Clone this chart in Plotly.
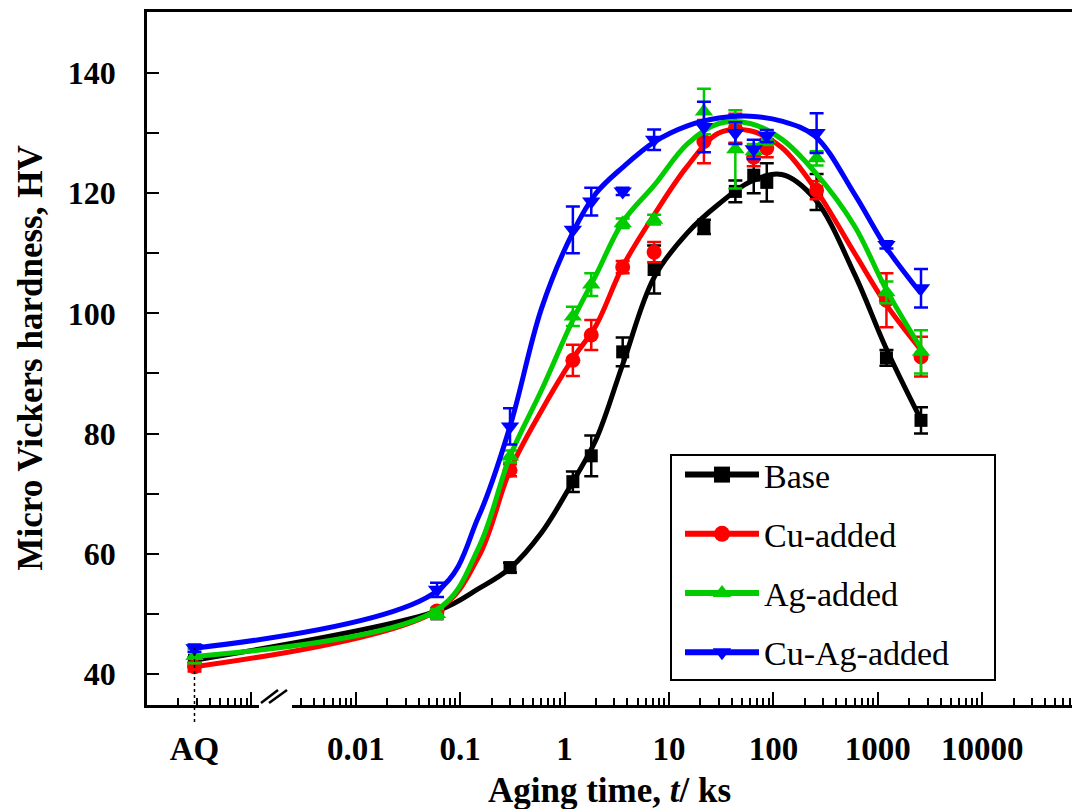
import math
import plotly.graph_objects as go

FONT = "Liberation Serif, Times New Roman, serif"

# ---------------- data ----------------
AQ = 2.85e-4  # position used for the as-quenched state on the log axis
t_pts = [AQ, 0.06, 0.3, 1.2, 1.8, 3.6, 7.2, 21.6, 43.2, 64.8, 86.4, 259.2, 1209.6, 2592]

base_hv = [42.3, 50.0, 57.7, 72.0, 76.3, 93.6, 107.3, 114.4, 120.3, 123.0, 121.8, 120.2, 92.6, 82.2]
base_err = [0.5, 0.6, 0.8, 1.7, 3.4, 2.4, 4.0, 1.2, 1.8, 3.0, 3.2, 3.0, 1.3, 2.2]

cu_hv = [41.2, 50.5, 73.9, 92.2, 96.4, 107.7, 110.2, 128.6, 130.8, 126.0, 127.5, 120.5, 102.2, 92.8]
cu_err = [0.8, 0.5, 1.0, 2.6, 2.5, 1.0, 1.7, 3.6, 2.4, 1.5, 1.5, 1.5, 4.5, 3.3]

ag_hv = [43.0, 50.0, 76.2, 99.5, 104.8, 115.0, 115.6, 133.6, 127.3, 127.0, 129.0, 125.8, 103.5, 93.6]
ag_err = [1.2, 0.8, 1.0, 1.6, 1.9, 0.8, 0.8, 3.8, 6.5, 1.2, 1.0, 1.2, 1.8, 3.6]

cuag_hv = [44.3, 54.0, 81.2, 113.9, 118.6, 120.3, 128.9, 131.0, 130.0, 127.3, 129.5, 130.0, 111.4, 104.2]
cuag_err = [0.6, 1.2, 3.0, 3.9, 2.3, 0.6, 1.7, 4.2, 1.8, 1.6, 1.0, 3.3, 0.6, 3.2]

# fitted (smoothed) curves
fit_t = [AQ, 0.06, 0.15, 0.3, 0.6, 1.2, 2, 3.6, 7.2, 15, 30, 60, 120, 250, 600, 1200, 2592]
base_fit = [42.3, 50.5, 54.2, 57.6, 63.5, 72.0, 79.0, 91.5, 106.0, 113.4, 118.2, 121.9, 123.1, 119.0, 106.5, 94.2, 82.3]
cu_fit = [41.2, 50.6, 59.5, 73.9, 83.8, 92.5, 98.0, 107.8, 116.4, 124.5, 130.0, 130.4, 127.6, 120.8, 110.0, 101.5, 93.9]
ag_fit = [42.9, 50.7, 61.0, 76.2, 87.2, 98.9, 106.4, 115.2, 121.3, 128.2, 131.6, 131.6, 129.0, 123.5, 114.5, 104.0, 94.2]
cuag_fit = [44.3, 53.8, 66.2, 81.2, 100.8, 113.5, 120.0, 124.3, 128.5, 131.2, 132.5, 132.8, 132.0, 129.5, 119.8, 111.0, 103.3]

names = ["Base", "Cu-added", "Ag-added", "Cu-Ag-added"]
colors = ["#000000", "#FF0000", "#00CC00", "#0000FF"]
symbols = ["square", "circle", "triangle-up", "triangle-down"]
msizes = [13, 15, 16, 16]
point_sets = [base_hv, cu_hv, ag_hv, cuag_hv]
err_sets = [base_err, cu_err, ag_err, cuag_err]
fit_sets = [base_fit, cu_fit, ag_fit, cuag_fit]

tick_vals = [AQ, 0.01, 0.1, 1, 10, 100, 1000, 10000]
tick_text = ["AQ", "0.01", "0.1", "1", "10", "100", "1000", "10000"]

# ---------------- layout constants ----------------
W, H = 1072, 809
ML, MR, MT, MB = 147, 0, 12, 104
PW, PH = W - ML - MR, H - MT - MB
XLO, XHI = -4.0, 4.86
YLO, YHI = 34.84, 150.15

fig = go.Figure()

for i in range(4):
    fig.add_trace(go.Scatter(
        x=fit_t, y=fit_sets[i], mode="lines",
        line=dict(color=colors[i], width=5, shape="spline", smoothing=1.0),
        showlegend=False, hoverinfo="skip"))
    fig.add_trace(go.Scatter(
        x=t_pts, y=point_sets[i], mode="markers",
        marker=dict(symbol=symbols[i], size=msizes[i], color=colors[i],
                    line=dict(width=0)),
        error_y=dict(type="data", array=err_sets[i], color=colors[i],
                     thickness=2.5, width=7),
        showlegend=False))

# legend proxies (no data); placed on the overlay axis that carries the labels
for i in range(4):
    fig.add_trace(go.Scatter(
        x=[None], y=[None], mode="lines+markers", name=names[i],
        xaxis="x2", yaxis="y",
        line=dict(color=colors[i], width=6),
        marker=dict(symbol=symbols[i], size=20, color=colors[i]),
        legendgroup=names[i]))

def px_x(px):
    return (px - ML) / PW

def px_y(py):
    return (H - MB - py) / PH

aq_x = (math.log10(AQ) - XLO) / (XHI - XLO)
aq_top = (max(b[0] for b in point_sets) - YLO) / (YHI - YLO)

shapes = [
    # hide the axis in the break region
    dict(type="rect", xref="paper", yref="paper", x0=px_x(259), x1=px_x(292),
         y0=-8 / PH, y1=16 / PH, fillcolor="white", line=dict(width=0), layer="above"),
    # break marks //
    dict(type="line", xref="paper", yref="paper", x0=px_x(261), y0=px_y(703),
         x1=px_x(278), y1=px_y(690), line=dict(color="black", width=2.5), layer="above"),
    dict(type="line", xref="paper", yref="paper", x0=px_x(269), y0=px_y(703),
         x1=px_x(287), y1=px_y(690), line=dict(color="black", width=2.5), layer="above"),
    # AQ dashed guide
    dict(type="line", xref="paper", yref="paper", x0=aq_x, x1=aq_x,
         y0=-17 / PH, y1=aq_top, line=dict(color="black", width=1.5, dash="3px,3px"),
         layer="above"),
    # legend frame
    dict(type="rect", xref="paper", yref="paper", x0=px_x(671), x1=px_x(995),
         y0=px_y(680), y1=px_y(455), line=dict(color="black", width=2),
         fillcolor="rgba(0,0,0,0)", layer="above"),
]

fig.update_layout(
    width=W, height=H,
    margin=dict(l=ML, r=MR, t=MT, b=MB, autoexpand=False),
    paper_bgcolor="white", plot_bgcolor="white",
    font=dict(family=FONT, color="black"),
    showlegend=True,
    legend=dict(x=px_x(680), y=px_y(446), xanchor="left", yanchor="top",
                bgcolor="rgba(0,0,0,0)", borderwidth=0,
                font=dict(family=FONT, size=34, color="black"),
                itemwidth=74, tracegroupgap=12, traceorder="grouped",
                itemclick=False, itemdoubleclick=False),
    xaxis=dict(type="log", range=[XLO, XHI], showline=True, mirror=True,
               linecolor="black", linewidth=2.5,
               ticks="inside", ticklen=13, tickwidth=2, tickcolor="black",
               tickmode="linear", tick0=0, dtick=1,
               minor=dict(ticks="inside", ticklen=7, tickwidth=2,
                          tickcolor="black", dtick="D1", showgrid=False),
               showticklabels=False, showgrid=False, zeroline=False),
    xaxis2=dict(type="log", range=[XLO, XHI], overlaying="x", anchor="y",
                side="bottom", tickmode="array", tickvals=tick_vals,
                ticktext=tick_text, ticks="", showline=False, showgrid=False,
                zeroline=False, ticklabelstandoff=21,
                tickfont=dict(family=FONT, size=33, color="black", weight="bold")),
    yaxis=dict(range=[YLO, YHI], showline=True, linecolor="black", linewidth=2.5,
               ticks="inside", ticklen=12, tickwidth=2, tickcolor="black",
               tick0=40, dtick=20,
               minor=dict(ticks="inside", ticklen=12, tickwidth=2,
                          tickcolor="black", dtick=10, tick0=40, showgrid=False),
               ticklabelstandoff=22, showgrid=False, zeroline=False,
               tickfont=dict(family=FONT, size=32, color="black", weight="bold")),
    shapes=shapes,
    annotations=[
        dict(text="Aging time, <i>t</i>/ ks", xref="paper", yref="paper",
             x=0.5, y=px_y(790), xanchor="center", yanchor="middle",
             showarrow=False,
             font=dict(family=FONT, size=35, color="black", weight="bold")),
        dict(text="Micro Vickers hardness, HV", xref="paper", yref="paper",
             x=px_x(30), y=0.5, xanchor="center", yanchor="middle",
             textangle=-90, showarrow=False,
             font=dict(family=FONT, size=35, color="black", weight="bold")),
    ],
)

fig.write_html("out.html")
